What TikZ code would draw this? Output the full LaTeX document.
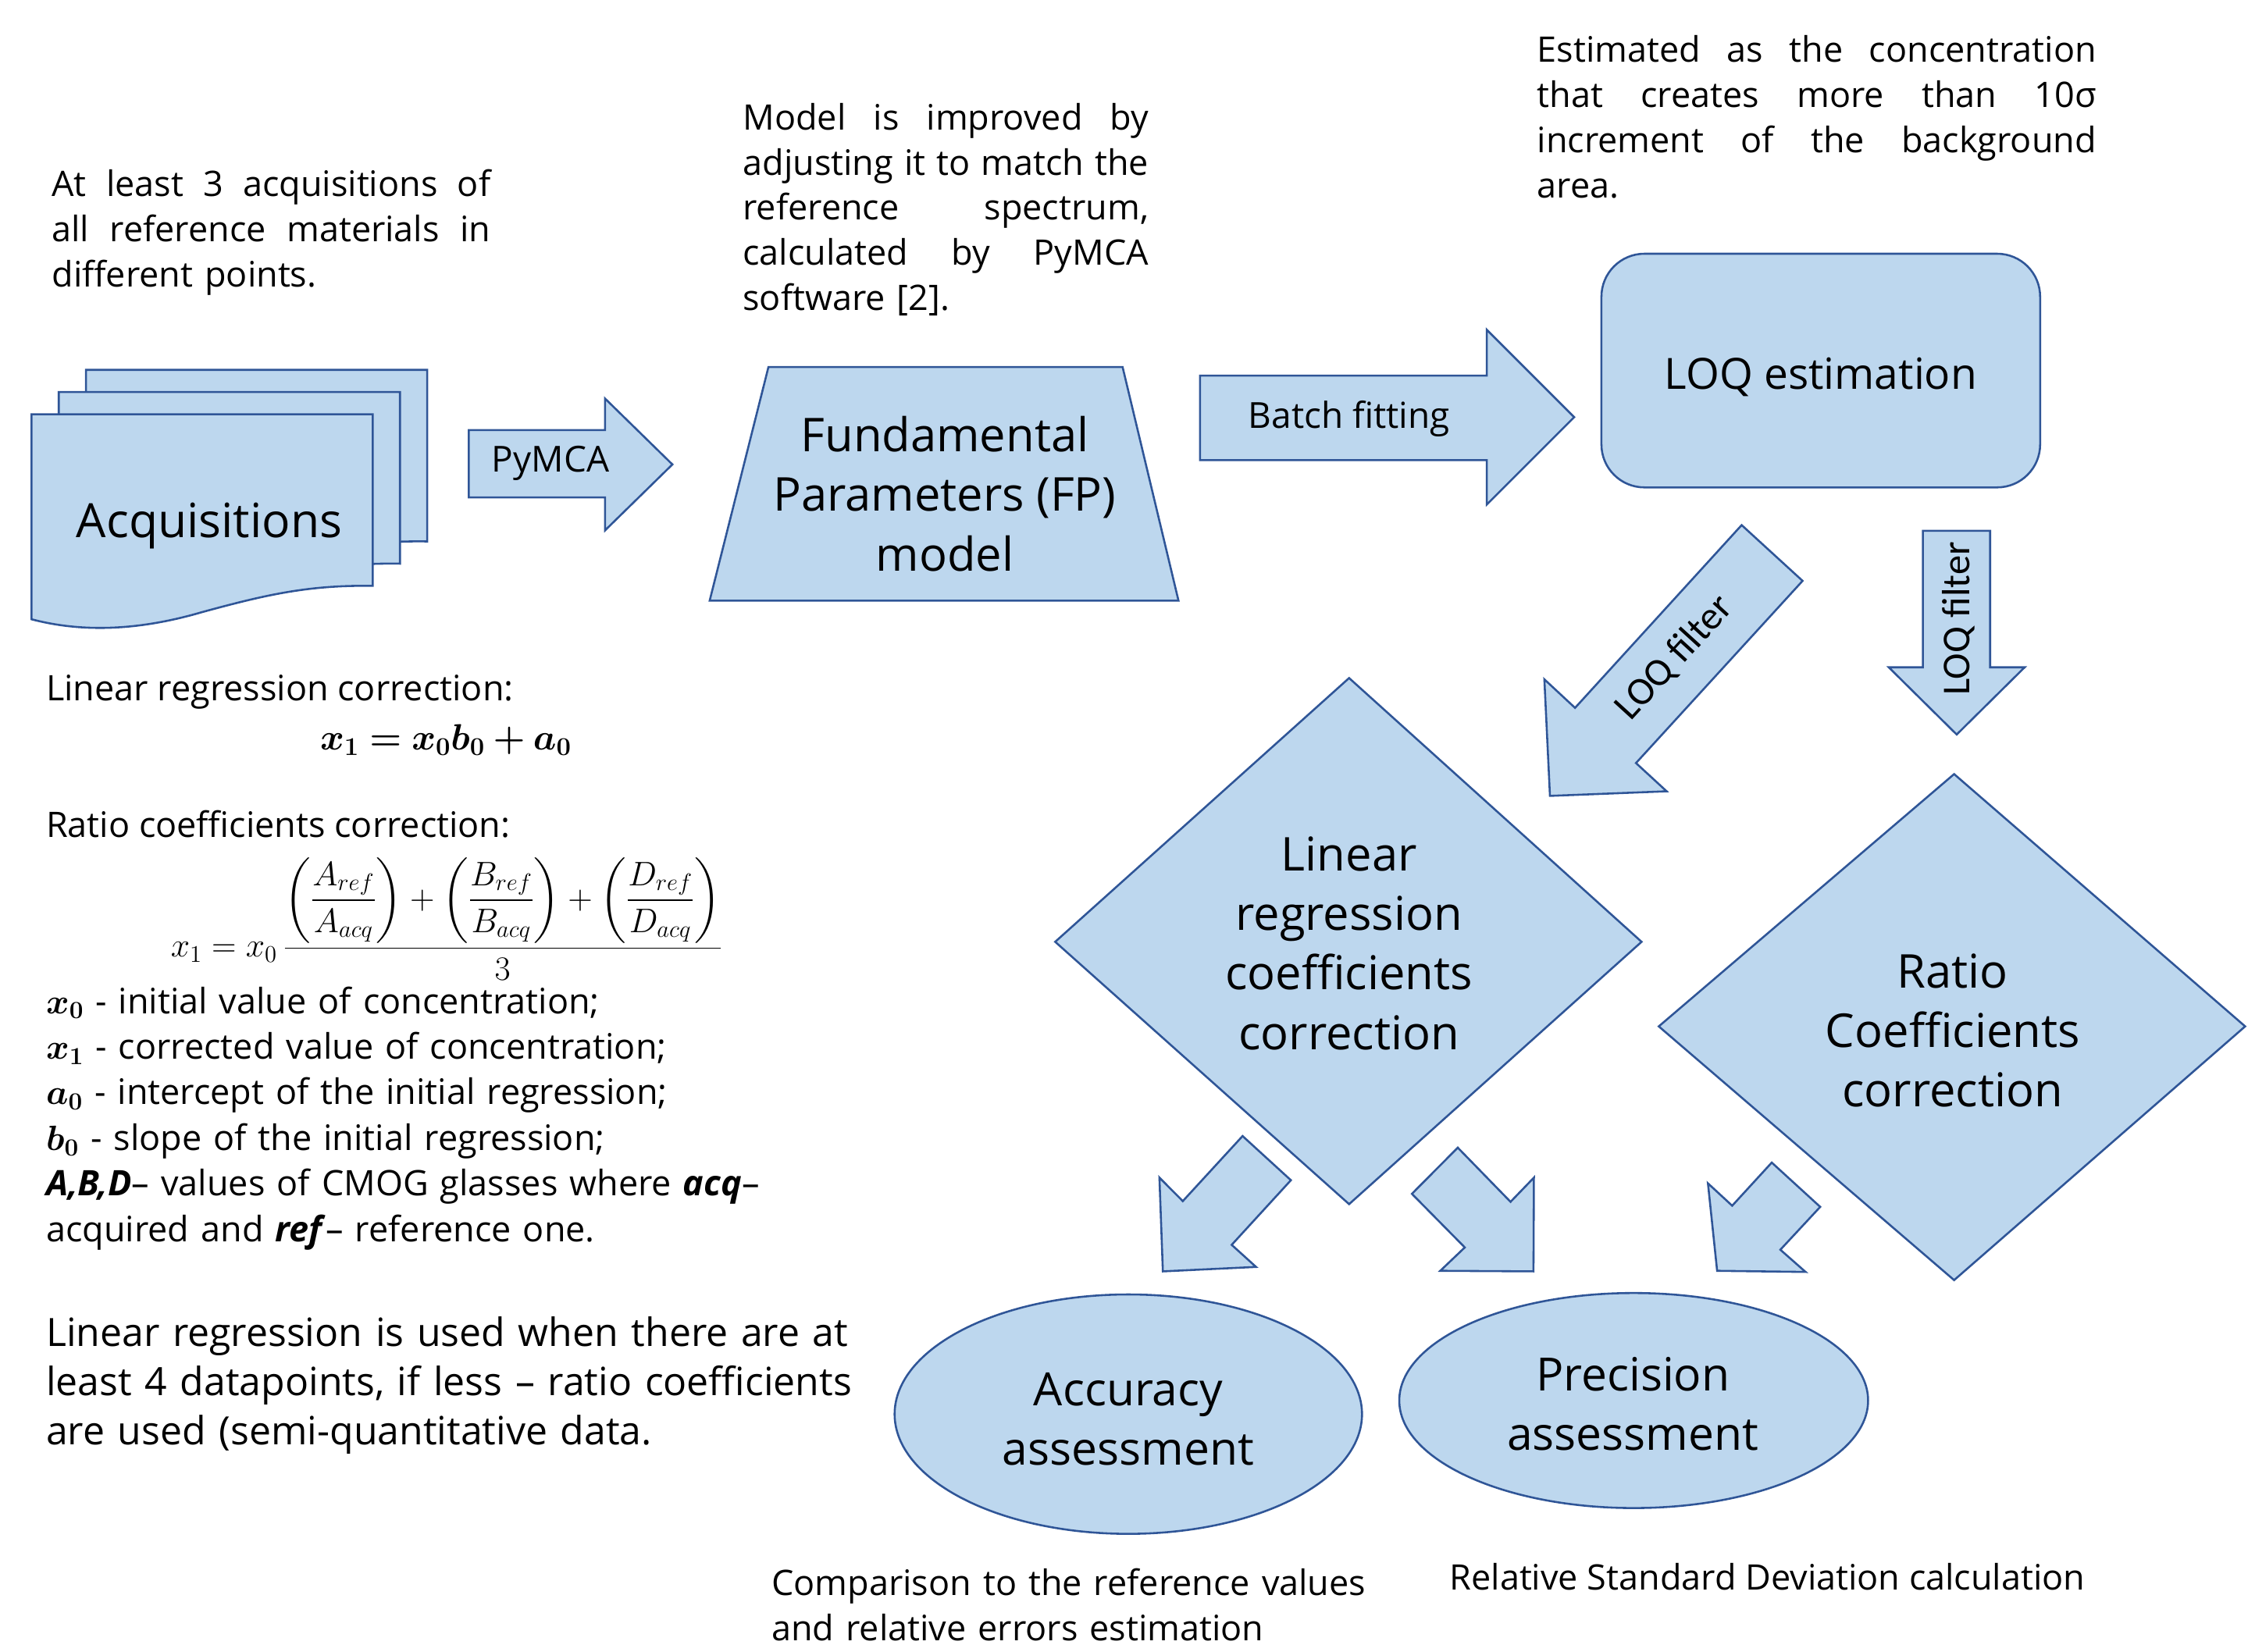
\RequirePackage{fix-cm}
\documentclass[tikz,border=0pt]{standalone}
\usepackage{amsmath,bm}
\usepackage{fontspec}
\setmainfont{Open Sans}
\newfontfamily\calibfont{Carlito}
\definecolor{shapefill}{HTML}{BDD7EE}
\definecolor{shapeline}{HTML}{2F5597}
% one fully justified line of a given width (words separated by \hfill)
\newcommand{\jline}[2]{\leavevmode\hbox to #1{#2}}
\tikzset{
  blockshape/.style={fill=shapefill, draw=shapeline, line width=1.4pt, line join=miter},
  bodytext/.style={inner sep=0pt, font=\fontsize{24.5}{31.5}\selectfont},
  bigtext/.style={inner sep=0pt, align=center, font=\fontsize{32.5}{41.5}\selectfont},
  arrowtext/.style={inner sep=0pt, font=\fontsize{25}{30}\selectfont},
  filtertext/.style={inner sep=0pt, font=\calibfont\fontsize{27.5}{30}\selectfont},
}
\begin{document}
\begin{tikzpicture}[x=1pt,y=-1pt]
\path[use as bounding box, fill=white] (0,0) rectangle (1568,1152);

% ---- explanatory paragraphs on top ----
\node[bodytext, text width=306pt, anchor=base west] (notea) at (36,137)
  {\jline{306pt}{At\hfill least\hfill 3\hfill acquisitions\hfill of}\\
   \jline{306pt}{all\hfill reference\hfill materials\hfill in}\\
   different points.};
\node[bodytext, text width=283pt, anchor=base west] (noteb) at (518,90.5)
  {\jline{283pt}{Model\hfill is\hfill improved\hfill by}\\
   \jline{283pt}{adjusting\hfill it\hfill to\hfill match\hfill the}\\
   \jline{283pt}{reference\hfill spectrum,}\\
   \jline{283pt}{calculated\hfill by\hfill PyMCA}\\
   software [2].};
\node[bodytext, text width=390pt, anchor=base west] (notec) at (1072,43.5)
  {\jline{390pt}{Estimated\hfill as\hfill the\hfill concentration}\\
   \jline{390pt}{that\hfill creates\hfill more\hfill than\hfill 10σ}\\
   \jline{390pt}{increment\hfill of\hfill the\hfill background}\\
   area.};

% ---- acquisitions: stacked documents ----
\foreach \dx/\dy in {38/-31, 19/-15.5, 0/0} {
  \draw[blockshape, shift={(\dx,\dy)}] (22,289) -- (260,289) -- (260,408.7)
    .. controls (215,408) and (185,415) .. (141,427)
    .. controls (100,439) and (60,442) .. (22,432) -- cycle;
}
\node[bigtext, font=\fontsize{33}{40}\selectfont] (acq) at (146,367) {Acquisitions};

% ---- PyMCA block arrow ----
\draw[blockshape] (327,300) -- (422,300) -- (422,278) -- (469,324) -- (422,370)
  -- (422,347) -- (327,347) -- cycle;
\node[arrowtext] (pymca) at (384,323) {PyMCA};

% ---- FP model trapezoid ----
\draw[blockshape] (536,256) -- (783,256) -- (822,419) -- (495,419) -- cycle;
\node[bigtext] (fp) at (659,344.5) {Fundamental\\Parameters (FP)\\model};

% ---- batch fitting block arrow ----
\draw[blockshape] (837,262) -- (1037,262) -- (1037,230) -- (1098,291) -- (1037,352)
  -- (1037,321) -- (837,321) -- cycle;
\node[arrowtext] (batch) at (941,292) {Batch fitting};

% ---- LOQ estimation ----
\draw[blockshape, rounded corners=30pt] (1117,177) rectangle (1423,340);
\node[bigtext, font=\fontsize{30}{40}\selectfont] (loq) at (1270,263) {LOQ estimation};

% ---- LOQ filter arrows ----
\draw[blockshape] (1214.8,366.3) -- (1257.3,405.2) -- (1141.1,532.3) -- (1162.5,552.0)
  -- (1081.1,555.2) -- (1077.2,473.9) -- (1098.6,493.8) -- cycle;
\node[filtertext, rotate=47.6] (filta) at (1168,459) {LOQ filter};
\draw[blockshape] (1341.2,370.3) -- (1388.1,370.3) -- (1388.1,465.5) -- (1412.2,465.5)
  -- (1364.8,512.4) -- (1317.4,465.5) -- (1341.2,465.5) -- cycle;
\node[filtertext, rotate=90] (filtb) at (1366,431.5) {LOQ filter};

% ---- correction diamonds ----
\draw[blockshape] (941,473) -- (1145,657) -- (941,840) -- (736,657) -- cycle;
\node[bigtext] (linreg) at (941,658) {Linear\\regression\\coefficients\\correction};
\draw[blockshape] (1363,540) -- (1566,716) -- (1363,893) -- (1157,716) -- cycle;
\node[bigtext] (ratio) at (1362,719) {Ratio\\Coefficients\\correction};

% ---- small arrows towards the assessments ----
\draw[blockshape] (866.7,792.5) -- (900.4,823.3) -- (859.1,868.4) -- (876.1,883.8)
  -- (811.1,886.9) -- (808.7,821.5) -- (825.0,837.9) -- cycle;
\draw[blockshape] (984.8,832.8) -- (1016.8,800.6) -- (1053.6,838.4) -- (1069.9,821.5)
  -- (1069.6,886.9) -- (1004.6,886.5) -- (1021.7,870.2) -- cycle;
\draw[blockshape] (1235.8,811.0) -- (1269.6,841.9) -- (1241.8,871.8) -- (1259.4,887.3)
  -- (1197.7,886.5) -- (1191.3,825.5) -- (1208.2,841.1) -- cycle;

% ---- assessments ----
\draw[blockshape] (787,986.5) ellipse [x radius=163pt, y radius=83.5pt];
\node[bigtext, font=\fontsize{32}{41.5}\selectfont] (acc) at (787,990) {Accuracy\\assessment};
\draw[blockshape] (1139.5,977) ellipse [x radius=163.5pt, y radius=75pt];
\node[bigtext, font=\fontsize{32}{41.5}\selectfont] (prec) at (1139,979.5) {Precision\\assessment};

\node[bodytext, text width=420pt, anchor=base west, align=left] (accnote) at (538,1113)
  {Comparison to the reference values\\and relative errors estimation};
\node[bodytext, anchor=base west] (precnote) at (1011,1109)
  {Relative Standard Deviation calculation};

% ---- correction formulas ----
\node[bodytext, anchor=base west] (lrtitle) at (32,489) {Linear regression correction:};
\node[inner sep=0pt, font=\fontsize{25.5}{30}\selectfont] (lrform) at (311,516)
  {$\bm{x_1 = x_0 b_0 + a_0}$};
\node[bodytext, anchor=base west] (rctitle) at (32,584) {Ratio coefficients correction:};
\node[inner sep=0pt, anchor=west, font=\fontsize{23.8}{28}\selectfont] (rcform) at (119,641)
  {$x_1 = x_0\,\dfrac{\biggl(\dfrac{A_{ref}}{A_{acq}}\biggr)+\biggl(\dfrac{B_{ref}}{B_{acq}}\biggr)+\biggl(\dfrac{D_{ref}}{D_{acq}}\biggr)}{3}$};

\node[bodytext, text width=600pt, anchor=base west, align=left,
      font=\fontsize{24.5}{31.8}\selectfont] (defs) at (32,707)
  {$\bm{x_0}$ - initial value of concentration;\\
   $\bm{x_1}$ - corrected value of concentration;\\
   $\bm{a_0}$ - intercept of the initial regression;\\
   $\bm{b_0}$ - slope of the initial regression;\\
   \textbf{\textit{A,B,D}}– values of CMOG glasses where \textbf{\textit{acq}}–\\
   acquired and \textbf{\textit{ref}}– reference one.};

\node[inner sep=0pt, text width=600pt, anchor=base west, align=left,
      font=\fontsize{27.2}{34.5}\selectfont] (usage) at (32,939)
  {Linear regression is used when there are at\\
   least 4 datapoints, if less – ratio coefficients\\
   are used (semi-quantitative data.};
\end{tikzpicture}
\end{document}
